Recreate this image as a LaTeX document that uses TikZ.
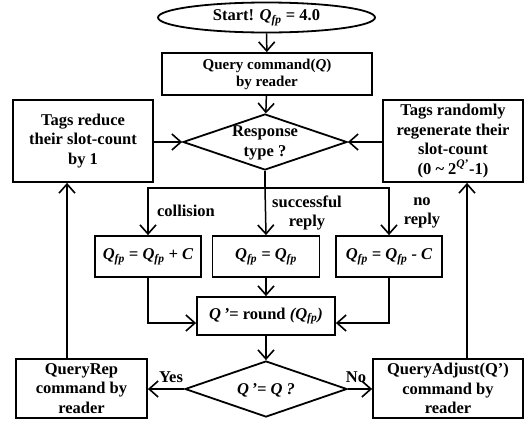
\documentclass[tikz,border=0pt]{standalone}
\usepackage{fontspec}
\setmainfont{Liberation Serif}
\usetikzlibrary{shapes.geometric,arrows.meta}
\newcommand{\Qfp}{\textit{Q}\textsubscript{\textit{fp}}}
\begin{document}
\begin{tikzpicture}[x=1pt,y=-1pt,
  font=\fontsize{16.5}{19.5}\selectfont\bfseries,
  box/.style={draw, line width=1.8pt, rectangle, inner sep=0pt, align=center},
  dia/.style={draw, line width=1.8pt, diamond, inner sep=0pt},
  arr/.style={line width=1.5pt, -{Straight Barb[length=9pt,width=16pt,line width=1.6pt]}},
  ln/.style={line width=1.5pt},
  lab/.style={inner sep=0pt, align=center}]
\useasboundingbox (0,0) rectangle (529,421);

% nodes
\node[draw, line width=1.8pt, ellipse, inner sep=0pt, minimum width=217pt, minimum height=30pt] (start) at (266.5,17.5) {};
\node[lab] (starttxt) at (266.5,18) {Start! \Qfp{} = 4.0};
\node[box, minimum width=210pt, minimum height=42pt, font=\fontsize{15}{17}\selectfont\bfseries] (query) at (267,74) {Query command(\textit{Q})\\by reader};
\node[dia, minimum width=164pt, minimum height=56pt] (resp) at (265,142) {};
\node[lab] (resptxt) at (265,143) {Response\\type ?};
\node[box, minimum width=140pt, minimum height=82pt] (lbox) at (83,141) {Tags reduce\\their slot-count\\by 1};
\node[box, minimum width=140pt, minimum height=82pt] (rbox) at (453,141) {Tags randomly\\regenerate their\\slot-count\\(0 \textasciitilde{} 2\textsuperscript{\textit{Q}’}-1)};

\node[box, minimum width=106pt, minimum height=41pt] (colbox) at (148,256.5) {\itshape \Qfp{} = \Qfp{} + C};
\node[box, minimum width=107pt, minimum height=41pt] (sucbox) at (266,256.5) {\itshape \Qfp{} = \Qfp};
\node[box, minimum width=106pt, minimum height=41pt] (norbox) at (389,256.5) {\itshape \Qfp{} = \Qfp{} - C};

\node[box, minimum width=138pt, minimum height=38pt] (round) at (266,316) {\textit{Q\,’}= round \textit{(\Qfp)}};
\node[dia, minimum width=162pt, minimum height=56pt] (d2) at (266,389) {};
\node[lab] (d2txt) at (266,390) {\itshape Q\,’= Q ?};
\node[box, minimum width=131pt, minimum height=59pt] (qrep) at (81.5,388.5) {QueryRep\\command by\\reader};
\node[box, minimum width=150pt, minimum height=59pt] (qadj) at (448,388.5) {QueryAdjust(Q’)\\command by\\reader};

% labels
\node[lab] (lcol) at (186,211) {collision};
\node[lab] (lsuc) at (307,213) {successful\\reply};
\node[lab] (lno) at (422,213) {no\\reply};
\node[lab] (lyes) at (171,377) {Yes};
\node[lab] (lnoo) at (356,377) {No};

% helper coordinates
\coordinate (br) at (265,188);
\coordinate (lx) at (67,0);
\coordinate (rx) at (467,0);

% connectors
\draw[arr] (start) -- (query);
\draw[arr] (query) -- (resp);
\draw[arr] (lbox.east |- resp) -- (resp.west);
\draw[arr] (rbox.west |- resp) -- (resp.east);
\draw[ln] (resp.south) -- (br);
\draw[arr] (br) -| (colbox.north);
\draw[arr] (br) -- (sucbox.north);
\draw[arr] (br) -| (norbox.north);
\draw[arr] (colbox.south) |- ([yshift=-7pt]round.west);
\draw[arr] (norbox.south) |- ([yshift=-7pt]round.east);
\draw[arr] (sucbox) -- (round);
\draw[arr] (round) -- (d2);
\draw[arr] (d2.west) -- (qrep.east |- d2.west);
\draw[arr] (d2.east) -- (qadj.west |- d2.east);
\draw[arr] (qrep.north -| lx) -- (lbox.south -| lx);
\draw[arr] (qadj.north -| rx) -- (rbox.south -| rx);
\end{tikzpicture}
\end{document}
